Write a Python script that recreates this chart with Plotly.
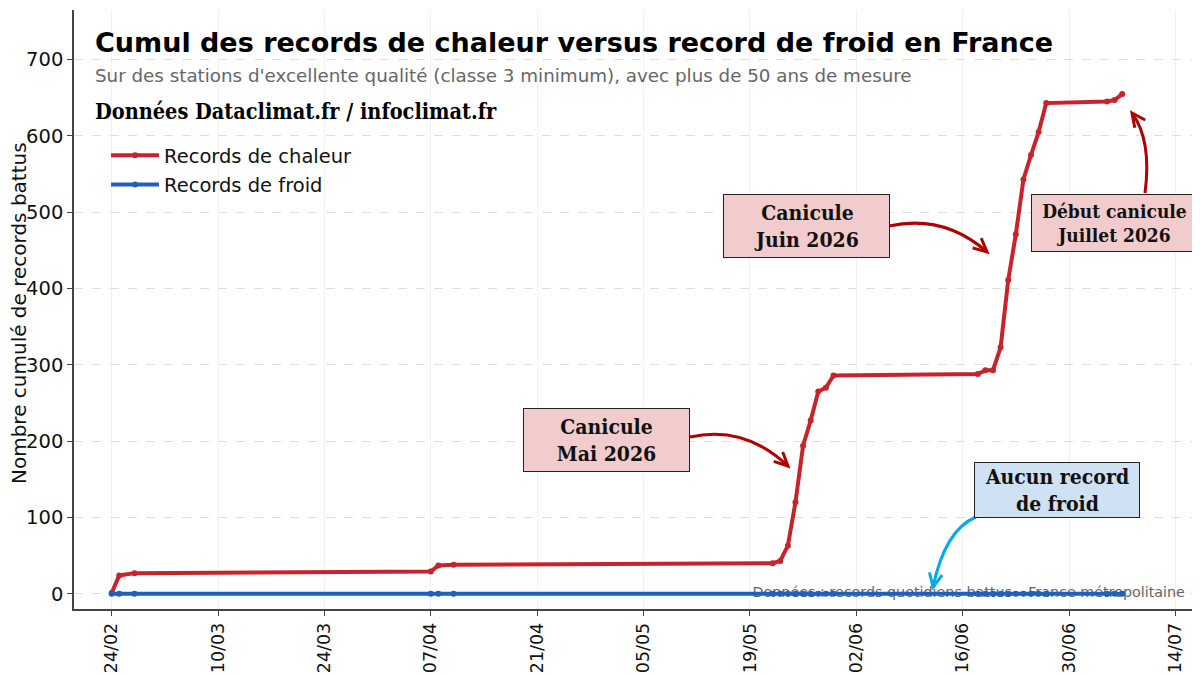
import math
import plotly.graph_objects as go

# données
dates = ["2026-02-24", "2026-02-25", "2026-02-27", "2026-04-07", "2026-04-08", "2026-04-10",
         "2026-05-22", "2026-05-23", "2026-05-24", "2026-05-25", "2026-05-26", "2026-05-27",
         "2026-05-28", "2026-05-29", "2026-05-30", "2026-06-18", "2026-06-19", "2026-06-20",
         "2026-06-21", "2026-06-22", "2026-06-23", "2026-06-24", "2026-06-25", "2026-06-26",
         "2026-06-27", "2026-07-05", "2026-07-06", "2026-07-07"]
chaleur = [1, 24, 27, 29, 37, 38,
           40, 43, 63, 120, 194, 227,
           265, 270, 286, 288, 293, 293,
           323, 411, 471, 543, 575, 605,
           643, 645, 647, 655]
froid = [0, 0, 0, 0, 0, 0,
         0, 0, 0, 0, 0, 0,
         0, 0, 0, 0, 0, 0,
         0, 0, 0, 0, 0, 0,
         0, 0, 0, 0]
y_ticks = [0, 100, 200, 300, 400, 500, 600, 700]

RED = "#c8232c"
BLUE = "#1f5fbf"
ARROW_RED = "#b00000"
ARROW_BLUE = "#00aaee"
SERIF = "DejaVu Serif Condensed, DejaVu Serif, serif"
SANS = "DejaVu Sans, sans-serif"

# la page ajoute une marge de 8 px : on travaille en pixels écran puis on décale
OFF = 8
W, H = 1200 - OFF, 675 - OFF
L, R, T, B = 74 - OFF, 1195 - OFF, 10 - OFF, 609 - OFF
PW, PH = R - L, B - T


def paper(x, y):
    # x, y en pixels de l'écran 1200x675
    return (x - OFF - L) / PW, (B - (y - OFF)) / PH


def curved_arrow(p0, c, p1, color):
    # courbe de Bézier + pointe ouverte, en coordonnées papier
    pts = [paper(*p) for p in (p0, c, p1)]
    d = "M {:.4f},{:.4f} Q {:.4f},{:.4f} {:.4f},{:.4f}".format(*pts[0], *pts[1], *pts[2])
    dx, dy = p1[0] - c[0], p1[1] - c[1]
    n = math.hypot(dx, dy)
    ux, uy = dx / n, dy / n
    wings = []
    for a in (0.45, -0.45):
        wx = -(ux * math.cos(a) - uy * math.sin(a)) * 15
        wy = -(ux * math.sin(a) + uy * math.cos(a)) * 15
        wings.append(paper(p1[0] + wx, p1[1] + wy))
    tip = paper(*p1)
    d2 = "M {:.4f},{:.4f} L {:.4f},{:.4f} L {:.4f},{:.4f}".format(*wings[0], *tip, *wings[1])
    return [
        dict(type="path", xref="paper", yref="paper", path=d, line=dict(color=color, width=3)),
        dict(type="path", xref="paper", yref="paper", path=d2, line=dict(color=color, width=3)),
    ]


def box(text, cx, cy, w, h, fill, size=21):
    x, y = paper(cx, cy)
    return dict(text=text, xref="paper", yref="paper", x=x, y=y, xanchor="center", yanchor="middle",
                showarrow=False, align="center", width=w - 8, height=h - 8, bgcolor=fill,
                bordercolor="#222222", borderwidth=1, borderpad=3,
                font=dict(family=SERIF, size=size, color="#111111", weight="bold"))


fig = go.Figure()
# texte de source, placé sous les courbes
fig.add_trace(go.Scatter(x=["2026-07-15 06:00"], y=[0], mode="text", showlegend=False, hoverinfo="skip",
                         text=["Données : records quotidiens battus – France métropolitaine"],
                         textposition="middle left", textfont=dict(family=SANS, size=14.3, color="#666666")))
fig.add_trace(go.Scatter(x=dates, y=chaleur, mode="lines+markers", name="Records de chaleur",
                         legendgroup="a", line=dict(color=RED, width=4), marker=dict(size=6, color=RED)))
fig.add_trace(go.Scatter(x=dates, y=froid, mode="lines+markers", name="Records de froid",
                         legendgroup="b", line=dict(color=BLUE, width=4), marker=dict(size=6, color=BLUE)))

shapes = []
shapes += curved_arrow((690, 437), (745, 425), (788, 466), ARROW_RED)
shapes += curved_arrow((889, 226), (944, 214), (987, 252), ARROW_RED)
shapes += curved_arrow((1145, 193), (1152, 140), (1132, 113), ARROW_RED)
shapes += curved_arrow((976, 517), (945, 530), (933, 587), ARROW_BLUE)

annotations = [
    box("Canicule<br>Mai 2026", 606.5, 440, 167, 64, "#f2cbcc"),
    box("Canicule<br>Juin 2026", 806, 226, 167, 64, "#f2cbcc"),
    box("Début canicule<br>Juillet 2026", 1114, 223, 167, 58, "#f2cbcc", size=19),
    box("Aucun record<br>de froid", 1057, 490, 166, 56, "#cfe2f3"),
]
tx, ty = paper(93, 42)
annotations.append(dict(text="Cumul des records de chaleur versus record de froid en France",
                        xref="paper", yref="paper", x=tx, y=ty, xanchor="left", yanchor="middle",
                        showarrow=False, font=dict(family=SANS, size=27, color="#000000", weight="bold")))
tx, ty = paper(93, 75)
annotations.append(dict(text="Sur des stations d'excellente qualité (classe 3 minimum), avec plus de 50 ans de mesure",
                        xref="paper", yref="paper", x=tx, y=ty, xanchor="left", yanchor="middle",
                        showarrow=False, font=dict(family=SANS, size=18.3, color="#666666")))
tx, ty = paper(93, 111)
annotations.append(dict(text="Données Dataclimat.fr / infoclimat.fr",
                        xref="paper", yref="paper", x=tx, y=ty, xanchor="left", yanchor="middle",
                        showarrow=False, font=dict(family=SERIF, size=21.5, color="#000000", weight="bold")))
# titre de l'axe y
tx, ty = paper(19, 313)
annotations.append(dict(text="Nombre cumulé de records battus", textangle=-90, height=20, borderpad=0,
                        xref="paper", yref="paper", x=tx, y=ty, xanchor="center", yanchor="middle",
                        showarrow=False, font=dict(family=SANS, size=20, color="#111111")))

lx, ly = paper(106, 136)
fig.update_layout(
    width=W, height=H,
    margin=dict(l=L, r=W - R, t=T, b=H - B),
    paper_bgcolor="white", plot_bgcolor="white",
    font=dict(family=SANS, color="#222222"),
    shapes=shapes, annotations=annotations,
    legend=dict(x=lx, y=ly, xanchor="left", yanchor="top", bgcolor="rgba(0,0,0,0)",
                font=dict(size=19.5, color="#111111"), tracegroupgap=1, itemwidth=48),
    showlegend=True,
)
fig.update_xaxes(type="date", range=["2026-02-19 01:00", "2026-07-16 14:00"], automargin=False,
                 tick0="2026-02-24", dtick=14 * 86400000, tickformat="%d/%m", tickangle=-90,
                 tickfont=dict(size=17.5, color="#111111"), ticks="outside", ticklen=5, tickcolor="#444444",
                 showline=True, linecolor="#444444", linewidth=1.5,
                 showgrid=True, gridcolor="#f1f1f1", gridwidth=1, zeroline=False)
fig.update_yaxes(range=[-20, 765], tickvals=y_ticks, automargin=False,
                 tickfont=dict(size=19.5, color="#111111"), ticks="outside", ticklen=5, tickcolor="#444444",
                 showline=True, linecolor="#444444", linewidth=1.5,
                 showgrid=True, gridcolor="#dedede", griddash="dash", gridwidth=1, zeroline=False)

fig.write_html("out.html")
